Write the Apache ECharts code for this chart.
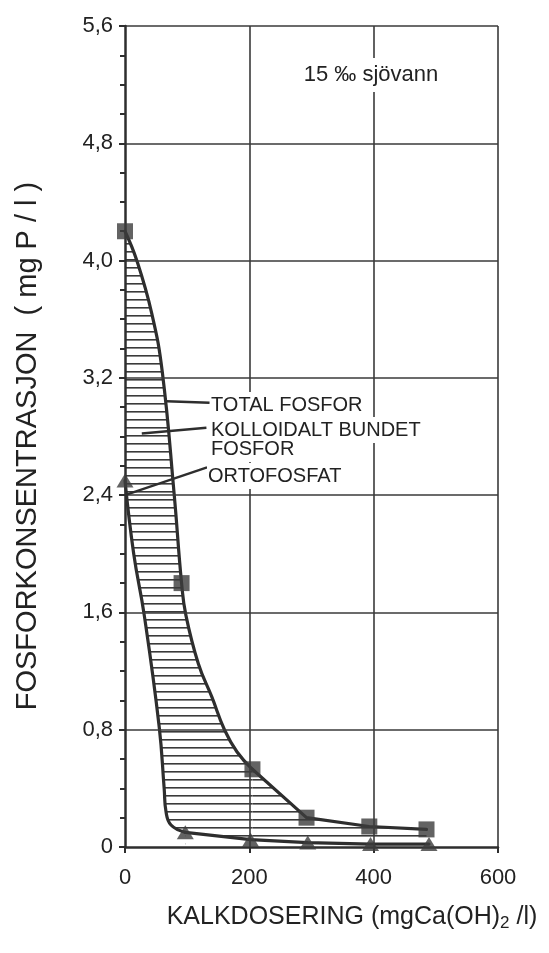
<!DOCTYPE html>
<html>
<head>
<meta charset="utf-8">
<script src="https://cdn.jsdelivr.net/npm/echarts@6/dist/echarts.min.js"></script>
<style>
  html, body { margin: 0; padding: 0; background: #fff; }
  #chart { width: 549px; height: 953px; }
</style>
</head>
<body>
<div id="chart"></div>
<script>
// Measured samples: lime dose (mg Ca(OH)2 / l) and phosphorus (mg P / l)
const totalDose = [0, 91, 205, 292, 393, 485];
const totalP    = [4.2, 1.8, 0.53, 0.20, 0.14, 0.12];
const orthoDose = [0, 97, 202, 294, 395, 489];
const orthoP    = [2.5, 0.10, 0.05, 0.03, 0.02, 0.02];

// Hand-fitted curves: a smooth upper part, then straight segments between samples
const totalCurveX = [0, 19, 43, 60, 79, 91, 98, 118, 140, 160, 180, 205];
const totalCurveY = [4.2, 4.0, 3.64, 3.24, 2.41, 1.80, 1.58, 1.25, 1.02, 0.80, 0.65, 0.53];
const totalTailX  = [205, 292, 393, 485];
const totalTailY  = [0.53, 0.20, 0.14, 0.12];
const orthoCurveX = [0, 14, 31, 55, 63, 66, 74, 97];
const orthoCurveY = [2.5, 2.0, 1.58, 0.82, 0.40, 0.24, 0.15, 0.10];
const orthoTailX  = [97, 202, 294, 395, 489];
const orthoTailY  = [0.10, 0.05, 0.03, 0.02, 0.02];

// Axis ticks
const xTicks = [0, 200, 400, 600];
const yTickLabels = ['0', '0,8', '1,6', '2,4', '3,2', '4,0', '4,8', '5,6'];

// Legend labels and their leader lines (curve point -> label point)
const labelTexts = ['TOTAL FOSFOR', 'KOLLOIDALT BUNDET', 'FOSFOR', 'ORTOFOSFAT'];
const leaderFrom = [[67, 3.04], [27, 2.82], [0, 2.40]];
const leaderTo   = [[136, 3.03], [131, 2.86], [132, 2.59]];

const ink = '#2e2e2e';
const FONT = '"Liberation Sans", Arial, sans-serif';

// horizontal hatching for the colloidal fraction
function hatchPattern() {
  const c = document.createElement('canvas');
  c.width = 8; c.height = 8;
  const g = c.getContext('2d');
  g.fillStyle = '#fff';
  g.fillRect(0, 0, 8, 8);
  g.fillStyle = '#3a3a3a';
  g.fillRect(0, 3, 8, 1.6);
  return c;
}
const hatch = hatchPattern();

const zip = (a, b) => a.map((v, i) => [v, b[i]]);

function curve(name, xs, ys, smooth, fill) {
  return {
    name, type: 'line', z: 2,
    data: zip(xs, ys),
    smooth, showSymbol: false, symbol: 'none',
    lineStyle: { color: ink, width: 3.2, cap: 'round', join: 'round' },
    areaStyle: { color: fill, opacity: 1 }
  };
}

const chart = echarts.init(document.getElementById('chart'), null, { renderer: 'canvas' });

const option = {
  backgroundColor: '#fff',
  animation: false,
  grid: { left: 125, right: 51, top: 26, bottom: 106, containLabel: false },
  xAxis: {
    type: 'value', min: 0, max: 600, interval: 200, z: 3,
    axisLine: { show: true, onZero: false, lineStyle: { color: ink, width: 2.5 } },
    axisTick: { show: true, length: 6, lineStyle: { color: ink, width: 2 } },
    axisLabel: {
      margin: 20, color: '#222', fontSize: 22, fontFamily: FONT,
      formatter: v => String(xTicks[xTicks.indexOf(v)])
    },
    splitLine: { show: true, showMinLine: false, lineStyle: { color: '#3a3a3a', width: 1.6 } }
  },
  yAxis: {
    type: 'value', min: 0, max: 5.6, interval: 0.8, z: 3,
    axisLine: { show: true, onZero: false, lineStyle: { color: ink, width: 2.5 } },
    axisTick: { show: true, length: 6, lineStyle: { color: ink, width: 2 } },
    minorTick: { show: true, splitNumber: 4, length: 5, lineStyle: { color: ink, width: 2 } },
    axisLabel: {
      margin: 12, color: '#222', fontSize: 22, fontFamily: FONT,
      formatter: v => yTickLabels[Math.round(v / 0.8)]
    },
    splitLine: { show: true, showMinLine: false, lineStyle: { color: '#3a3a3a', width: 1.6 } }
  },
  series: [
    curve('total', totalCurveX, totalCurveY, 0.45, { image: hatch, repeat: 'repeat' }),
    curve('total-tail', totalTailX, totalTailY, false, { image: hatch, repeat: 'repeat' }),
    curve('orto', orthoCurveX, orthoCurveY, 0.45, '#fff'),
    curve('orto-tail', orthoTailX, orthoTailY, false, '#fff'),
    {
      name: 'total-pts', type: 'scatter', z: 5, clip: false,
      data: zip(totalDose, totalP),
      symbol: 'rect', symbolSize: 16,
      itemStyle: { color: '#3c3c3c' }
    },
    {
      name: 'orto-pts', type: 'scatter', z: 5, clip: false,
      data: zip(orthoDose, orthoP),
      symbol: 'triangle', symbolSize: [17, 14],
      itemStyle: { color: '#3c3c3c' }
    }
  ]
};
chart.setOption(option);

// annotations placed after layout so leaders follow the axes
const px = p => chart.convertToPixel({ gridIndex: 0 }, p);
const graphics = [];
leaderFrom.forEach((p, i) => {
  const a = px(p), b = px(leaderTo[i]);
  graphics.push({
    type: 'line', z: 20,
    shape: { x1: a[0], y1: a[1], x2: b[0], y2: b[1] },
    style: { stroke: ink, lineWidth: 2.4 }
  });
});
const labelPos = [[210, 405], [210, 430], [210, 449], [207, 476]];
labelTexts.forEach((t, i) => {
  graphics.push({
    type: 'text', z: 21,
    x: labelPos[i][0], y: labelPos[i][1],
    style: {
      text: t, fill: '#222', font: '20px ' + FONT,
      verticalAlign: 'middle', align: 'left',
      backgroundColor: '#fff', padding: [3, 1, 3, 1]
    }
  });
});
graphics.push({
  type: 'text', z: 21, x: 371, y: 75,
  style: {
    text: '15 \u2030 sjövann', fill: '#222', font: '22px ' + FONT,
    align: 'center', verticalAlign: 'middle',
    backgroundColor: '#fff', padding: [6, 4, 6, 4]
  }
});
// axis titles
graphics.push({
  type: 'text', z: 21, x: 28, y: 446, rotation: Math.PI / 2,
  style: {
    text: 'FOSFORKONSENTRASJON  ( mg P / l )', fill: '#222', font: '29px ' + FONT,
    align: 'center', verticalAlign: 'middle'
  }
});
graphics.push({
  type: 'text', z: 21, x: 352, y: 917,
  style: {
    text: '{a|KALKDOSERING (mgCa(OH)}{s|2}{a| /l)}',
    align: 'center', verticalAlign: 'middle',
    rich: {
      a: { fontSize: 25, fontFamily: FONT, fill: '#222', color: '#222' },
      s: { fontSize: 17, fontFamily: FONT, fill: '#222', color: '#222', padding: [12, 0, 0, 0] }
    }
  }
});
chart.setOption({ graphic: { elements: graphics } });
</script>
</body>
</html>
